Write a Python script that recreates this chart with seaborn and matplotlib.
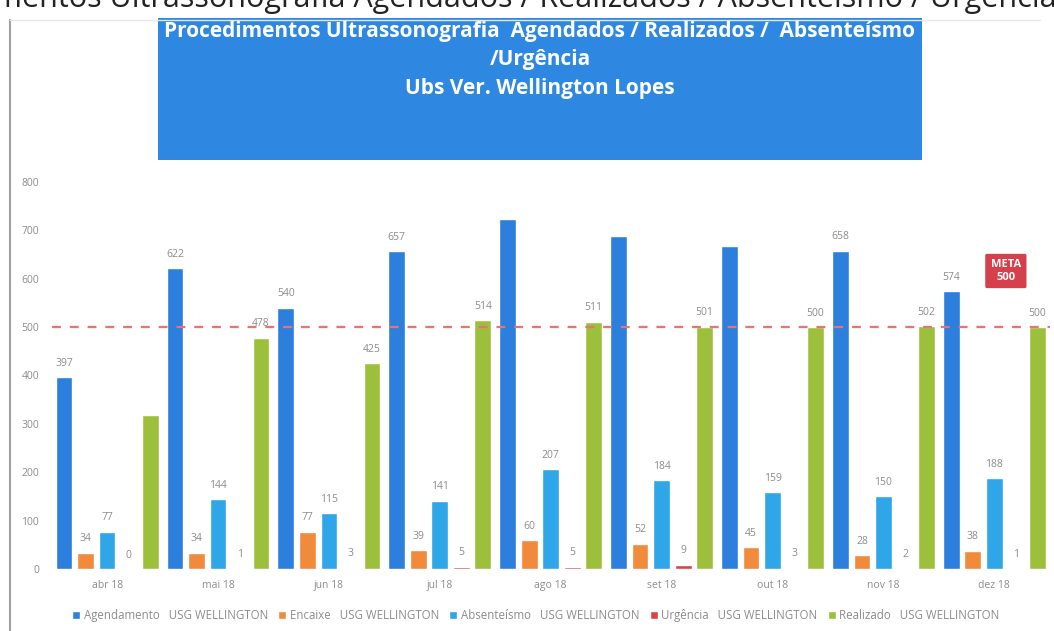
"""Ultrassonografia: agendados / realizados / absenteísmo / urgência - UBS Wellington Lopes."""

import matplotlib
matplotlib.use("Agg")
import matplotlib.pyplot as plt
from matplotlib.lines import Line2D
from matplotlib.patches import FancyBboxPatch
import pandas as pd
import seaborn as sns

meses = ["abr 18", "mai 18", "jun 18", "jul 18", "ago 18",
         "set 18", "out 18", "nov 18", "dez 18"]
series = ["Agendamento", "Encaixe", "Absenteísmo", "Urgência", "Realizado"]

agendamento = [397, 622, 540, 657, 723, 688, 667, 658, 574]
encaixe = [34, 34, 77, 39, 60, 52, 45, 28, 38]
absenteismo = [77, 144, 115, 141, 207, 184, 159, 150, 188]
urgencia = [0, 1, 3, 5, 5, 9, 3, 2, 1]
realizado = [318, 478, 425, 514, 511, 501, 500, 502, 500]

# rótulos que não aparecem no original (cortados / escondidos)
sem_rotulo = {"Agendamento": [4, 5, 6], "Realizado": [0]}

meta = 500
cores = ["#2C7FDC", "#F28A3C", "#2EA6E8", "#D9434A", "#9DC03C"]

valores = [agendamento, encaixe, absenteismo, urgencia, realizado]
df = pd.DataFrame(
    [(m, s, v) for s, vals in zip(series, valores) for m, v in zip(meses, vals)],
    columns=["mes", "serie", "valor"],
)
df["legenda"] = df["serie"] + "   USG WELLINGTON"

sns.set_style("white")
plt.rcParams["font.family"] = ["Open Sans", "DejaVu Sans"]

fig = plt.figure(figsize=(10.54, 6.31), dpi=100)
ax = fig.add_axes([0.049, 0.0983, 0.947, 0.6133])

sns.barplot(data=df, x="mes", y="valor", hue="legenda", palette=cores,
            width=0.97, gap=0.22, saturation=1, ax=ax, legend=True)

for cont, nome in zip(ax.containers, series):
    vals = df.loc[df["serie"] == nome, "valor"].tolist()
    labs = ["" if i in sem_rotulo.get(nome, []) else str(v)
            for i, v in enumerate(vals)]
    ax.bar_label(cont, labels=labs, padding=6, fontsize=7.5, color="#8C8C8C")

ax.axhline(meta, color="#F07070", ls=(0, (4, 4)), lw=1.6, zorder=3)

ax.set_ylim(0, 800)
ax.set_yticks(range(0, 801, 100))
ax.set_xlabel("")
ax.set_ylabel("")
ax.tick_params(axis="both", length=0, labelsize=7.5, labelcolor="#8C8C8C")
ax.tick_params(axis="y", pad=9)
ax.tick_params(axis="x", pad=8)
sns.despine(ax=ax, left=True, bottom=True)

leg = ax.legend(loc="upper center", bbox_to_anchor=(0.485, -0.076), ncol=5,
                frameon=False, fontsize=8.3, handlelength=0.7, handleheight=0.7,
                handletextpad=0.3, columnspacing=0.9, labelcolor="#8C8C8C")

# caixa META
ax.text(0.956, 0.77, "META\n500", transform=ax.transAxes, ha="center",
        va="center", fontsize=8, color="white", fontweight="bold",
        linespacing=1.15,
        bbox=dict(boxstyle="round,pad=0.5,rounding_size=0.15",
                  fc="#D6404C", ec="none"))

# caixa do título
caixa = FancyBboxPatch((158 / 1054, 1 - 160 / 631), (922 - 158) / 1054,
                       (160 - 18) / 631, boxstyle="square,pad=0",
                       transform=fig.transFigure, fc="#2E88E2", ec="none")
fig.add_artist(caixa)
fig.text(540 / 1054, 1 - 60 / 631,
         "Procedimentos Ultrassonografia  Agendados / Realizados /  Absenteísmo\n"
         "/Urgência\nUbs Ver. Wellington Lopes",
         ha="center", va="center", color="white", fontsize=15,
         fontweight="bold", linespacing=1.47)

# título da página (cortado no topo)
fig.text(-0.108, 1.003, "Procedimentos Ultrassonografia Agendados / Realizados / "
         "Absenteísmo / Urgência", ha="left", va="center", fontsize=22,
         color="#222222")

# moldura à esquerda
fig.add_artist(Line2D([10 / 1054, 10 / 1054], [0, 1 - 20 / 631],
                      transform=fig.transFigure, color="#A0A0A0", lw=1.5))
fig.add_artist(Line2D([10 / 1054, 1040 / 1054], [1 - 20 / 631, 1 - 20 / 631],
                      transform=fig.transFigure, color="#E6E6E6", lw=1))

fig.savefig("out.png", dpi=100, facecolor="white")
